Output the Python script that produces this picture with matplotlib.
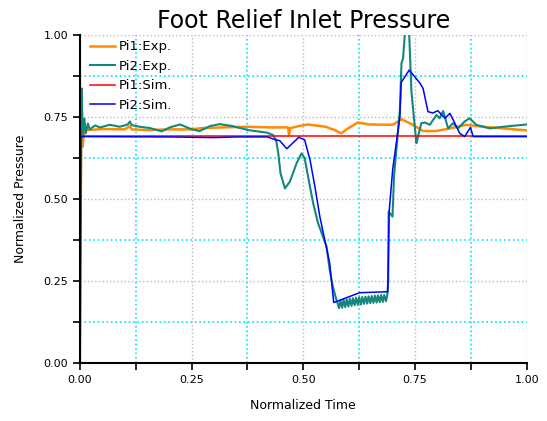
import matplotlib
matplotlib.use("Agg")
import matplotlib.pyplot as plt
from matplotlib.ticker import MultipleLocator, FormatStrFormatter

# Pi1 experimental (orange)
pi1_exp_t = [0.0, 0.003, 0.006, 0.009, 0.013, 0.02, 0.05, 0.1, 0.112, 0.116, 0.15, 0.2,
             0.246, 0.275, 0.32, 0.375, 0.43, 0.466, 0.468, 0.471, 0.49, 0.51, 0.55,
             0.57, 0.585, 0.6, 0.622, 0.647, 0.7, 0.72, 0.745, 0.768, 0.797, 0.828,
             0.865, 0.902, 1.0]
pi1_exp_p = [0.0, 0.72, 0.66, 0.70, 0.715, 0.71, 0.713, 0.712, 0.722, 0.712, 0.71, 0.712,
             0.712, 0.716, 0.718, 0.72, 0.718, 0.718, 0.695, 0.716, 0.722, 0.727, 0.72,
             0.71, 0.70, 0.715, 0.733, 0.727, 0.726, 0.743, 0.726, 0.707, 0.707, 0.715,
             0.726, 0.72, 0.709]

# Pi2 experimental (teal)
pi2_exp_t = [0.0, 0.0038, 0.0067, 0.010, 0.0134, 0.018, 0.022, 0.034, 0.045, 0.067, 0.089,
             0.107, 0.112, 0.116, 0.134, 0.157, 0.183, 0.201, 0.224, 0.251, 0.268, 0.291,
             0.313, 0.342, 0.376, 0.403, 0.419, 0.432, 0.439, 0.444, 0.449, 0.459, 0.470,
             0.485, 0.496, 0.503, 0.515, 0.522, 0.533, 0.544, 0.552, 0.559, 0.566, 0.572,
             0.580,
             0.583, 0.587, 0.590, 0.594, 0.597, 0.601, 0.604, 0.608, 0.611, 0.615, 0.618,
             0.622, 0.625, 0.629, 0.632, 0.636, 0.639, 0.643, 0.646, 0.650, 0.653, 0.657,
             0.660, 0.664, 0.667, 0.671, 0.674, 0.678, 0.681, 0.685, 0.688,
             0.690, 0.691, 0.6996, 0.703, 0.716, 0.7197, 0.7233, 0.727, 0.7315, 0.737,
             0.742, 0.749, 0.753, 0.756, 0.764, 0.772, 0.783, 0.798, 0.805, 0.813, 0.824,
             0.835, 0.846, 0.861, 0.872, 0.887, 0.917, 0.947, 1.0]
pi2_exp_p = [0.0, 0.837, 0.69, 0.745, 0.70, 0.73, 0.712, 0.724, 0.718, 0.726, 0.72,
             0.727, 0.736, 0.725, 0.72, 0.716, 0.706, 0.718, 0.727, 0.712, 0.707, 0.722,
             0.728, 0.722, 0.71, 0.705, 0.702, 0.695, 0.68, 0.639, 0.578, 0.532, 0.553,
             0.609, 0.639, 0.624, 0.537, 0.487, 0.426, 0.385, 0.355, 0.284, 0.233, 0.202,
             0.167,
             0.19, 0.168, 0.192, 0.17, 0.194, 0.172, 0.196, 0.174, 0.197, 0.176, 0.199,
             0.177, 0.2, 0.178, 0.201, 0.18, 0.202, 0.181, 0.203, 0.182, 0.204, 0.183,
             0.205, 0.184, 0.206, 0.185, 0.207, 0.186, 0.207, 0.188, 0.208,
             0.25, 0.461, 0.446, 0.568, 0.771, 0.914, 0.929, 1.0, 1.08, 1.0,
             0.827, 0.726, 0.67, 0.686, 0.731, 0.733, 0.726, 0.756, 0.746, 0.768, 0.715,
             0.731, 0.715, 0.736, 0.746, 0.726, 0.715, 0.72, 0.727]

# Pi1 simulation (red)
pi1_sim_t = [0.0, 0.25, 0.5, 0.75, 1.0]
pi1_sim_p = [0.692, 0.692, 0.692, 0.692, 0.692]

# Pi2 simulation (blue)
pi2_sim_t = [0.0, 0.002, 0.2, 0.3, 0.35, 0.42, 0.438, 0.447, 0.463, 0.49, 0.503, 0.515,
             0.526, 0.537, 0.548, 0.559, 0.568, 0.626, 0.689, 0.692, 0.700, 0.716, 0.719,
             0.737, 0.761, 0.768, 0.779, 0.790, 0.801, 0.817, 0.828, 0.839, 0.850, 0.861,
             0.874, 0.88, 1.0]
pi2_sim_p = [0.0, 0.69, 0.689, 0.687, 0.689, 0.689, 0.68, 0.678, 0.653, 0.688, 0.68, 0.619,
             0.537, 0.446, 0.375, 0.304, 0.184, 0.214, 0.217, 0.46, 0.59, 0.75, 0.855,
             0.893, 0.853, 0.837, 0.766, 0.762, 0.769, 0.746, 0.761, 0.731, 0.70, 0.69,
             0.718, 0.69, 0.69]

fig = plt.figure(figsize=(5.47, 4.21), dpi=100)
ax = fig.add_axes([0.146, 0.138, 0.817, 0.779])

ax.plot(pi1_exp_t, pi1_exp_p, color="#ff8c00", lw=1.8, label="Pi1:Exp.")
ax.plot(pi2_exp_t, pi2_exp_p, color="#13877d", lw=1.5, label="Pi2:Exp.")
ax.plot(pi1_sim_t, pi1_sim_p, color="#ff0000", lw=1.1, label="Pi1:Sim.")
ax.plot(pi2_sim_t, pi2_sim_p, color="#0000ff", lw=1.1, label="Pi2:Sim.")

ax.set_xlim(0, 1)
ax.set_ylim(0, 1)
ax.xaxis.set_major_locator(MultipleLocator(0.25))
ax.yaxis.set_major_locator(MultipleLocator(0.25))
ax.xaxis.set_minor_locator(MultipleLocator(0.125))
ax.yaxis.set_minor_locator(MultipleLocator(0.125))
ax.xaxis.set_major_formatter(FormatStrFormatter("%.2f"))
ax.yaxis.set_major_formatter(FormatStrFormatter("%.2f"))
ax.grid(which="major", color="#bbbbbb", linestyle=":", lw=1)
ax.grid(which="minor", color="#00e5ff", linestyle=":", lw=1.2)
ax.set_axisbelow(True)

for s in ["top", "right"]:
    ax.spines[s].set_visible(False)
for s in ["left", "bottom"]:
    ax.spines[s].set_linewidth(1.5)
ax.tick_params(which="both", direction="out", length=5, width=1.2, labelsize=8)

ax.set_title("Foot Relief Inlet Pressure", fontsize=17, pad=5)
ax.set_xlabel("Normalized Time", fontsize=9, labelpad=10)
ax.set_ylabel("Normalized Pressure", fontsize=9, labelpad=12)

ax.legend(loc="upper left", frameon=False, fontsize=9.5, handlelength=1.9,
          handletextpad=0.3, labelspacing=0.5, borderaxespad=0.0,
          bbox_to_anchor=(0.011, 1.0))

fig.savefig("out.png", dpi=100)
